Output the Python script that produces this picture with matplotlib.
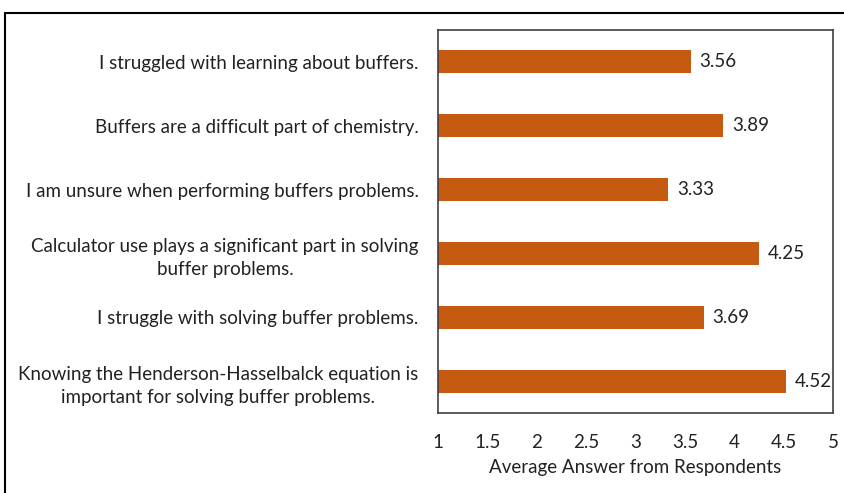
import matplotlib.pyplot as plt
from matplotlib.patches import Rectangle

# statements, top to bottom as shown
statements = [
    "I struggled with learning about buffers.",
    "Buffers are a difficult part of chemistry.",
    "I am unsure when performing buffers problems.",
    "Calculator use plays a significant part in solving\nbuffer problems.",
    "I struggle with solving buffer problems.",
    "Knowing the Henderson-Hasselbalck equation is\nimportant for solving buffer problems.",
]
averages = [3.56, 3.89, 3.33, 4.25, 3.69, 4.52]
x_ticks = [1, 1.5, 2, 2.5, 3, 3.5, 4, 4.5, 5]

plt.rcParams['font.family'] = ['Lato', 'DejaVu Sans']
fs = 13.5

fig = plt.figure(figsize=(8.45, 4.93), dpi=100)
ax = fig.add_axes([438 / 845, 1 - 413 / 493, 395 / 845, 383 / 493])

pos = list(range(len(statements)))
ax.barh(pos, [v - 1 for v in averages], left=1, height=0.36, color='#C55A11')
for p, v in zip(pos, averages):
    ax.text(v + 0.09, p, f"{v:.2f}", va='center', ha='left', fontsize=fs, color='#222222')

ax.set_xlim(1, 5)
ax.set_ylim(len(statements) - 0.5, -0.5)
ax.set_xticks(x_ticks)
ax.set_xticklabels([f"{t:g}" for t in x_ticks])
ax.set_yticks(pos)
ax.set_yticklabels(statements, multialignment='center', linespacing=1.45)
ax.tick_params(axis='both', length=0, labelsize=fs, colors='#222222')
ax.tick_params(axis='x', pad=15)
ax.tick_params(axis='y', pad=14)
ax.set_xlabel("Average Answer from Respondents", fontsize=fs, color='#222222', labelpad=6)
for s in ax.spines.values():
    s.set_color('#404040')
    s.set_linewidth(1.2)

# outer border of the figure
fig.patches.append(Rectangle((5 / 845, -0.1), 1.2, 1 - 13 / 493 + 0.1,
                             transform=fig.transFigure, fill=False,
                             edgecolor='black', linewidth=1.5))

fig.savefig("out.png", dpi=100)
